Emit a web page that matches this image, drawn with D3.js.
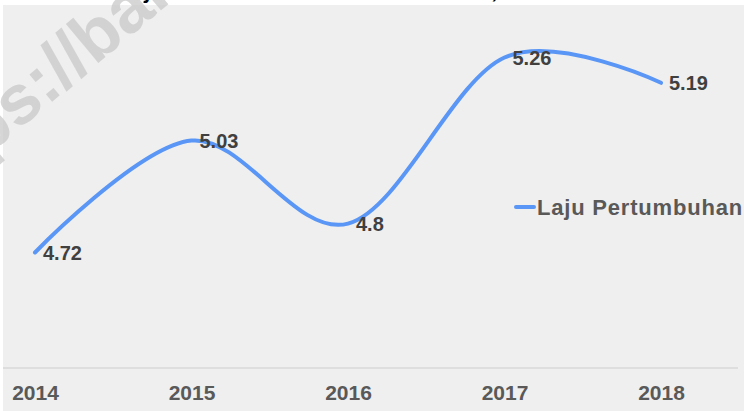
<!DOCTYPE html>
<html><head><meta charset="utf-8">
<script src="https://cdn.jsdelivr.net/npm/d3@7"></script>
<style>html,body{margin:0;padding:0;background:#fff;overflow:hidden}</style>
</head><body><svg id="c" width="744" height="411"></svg>
<script>
const years = ["2014","2015","2016","2017","2018"];
const values = [4.72, 5.03, 4.8, 5.26, 5.19];
const valueLabels = ["4.72","5.03","4.8","5.26","5.19"];
const seriesName = "Laju Pertumbuhan";
const titleText = "Laju Pertumbuhan Ekonomi Daerah, 2014 - 2018";
const watermarkText = "https://bandungkab.bps.go.id";

const svg = d3.select("#c");
const W = 744, H = 411;
svg.append("rect").attr("x",0).attr("y",0).attr("width",W).attr("height",H).attr("fill","#ffffff");
svg.append("rect").attr("x",3).attr("y",5).attr("width",W-3).attr("height",H-5).attr("fill","#efefef");

// title mostly cut off at top (as in the reference crop)
svg.append("text").attr("x",120).attr("y",-2)
  .attr("font-family","Liberation Sans, Arial, sans-serif").attr("font-weight","bold").attr("font-style","italic")
  .attr("font-size",22).attr("fill","#000").text(titleText);

const x = d3.scalePoint().domain(years).range([35, 661]);
const y = d3.scaleLinear().domain([4.4, 5.4]).range([368, 7]);

// baseline axis
const axis = d3.axisBottom(x).tickSize(0).tickPadding(17);
const g = svg.append("g").attr("transform","translate(0,368)").call(axis);
g.select(".domain").remove();
g.append("line").attr("x1",3).attr("x2",738).attr("y1",0).attr("y2",0).attr("stroke","#d9d9d9").attr("stroke-width",1.5);
g.selectAll(".tick text").attr("font-family","Liberation Sans, Arial, sans-serif").attr("font-weight","bold")
  .attr("font-size",21).attr("fill","#595959");

// line
const line = d3.line().x((d,i)=>x(years[i])).y(d=>y(d)).curve(d3.curveCardinal.tension(0));
svg.append("path").datum(values).attr("d",line).attr("fill","none")
  .attr("stroke","#5a96f5").attr("stroke-width",4).attr("stroke-linecap","round");

// data labels
svg.selectAll(".lbl").data(values).enter().append("text").attr("class","lbl")
  .attr("x",(d,i)=>x(years[i])+8).attr("y",d=>y(d)).attr("dy","0.36em")
  .attr("font-family","Liberation Sans, Arial, sans-serif").attr("font-weight","bold")
  .attr("font-size",20).attr("fill","#404040").text((d,i)=>valueLabels[i]);

// legend
svg.append("line").attr("x1",516).attr("x2",534).attr("y1",207).attr("y2",207)
  .attr("stroke","#5a96f5").attr("stroke-width",4).attr("stroke-linecap","round");
svg.append("text").attr("x",537).attr("y",207).attr("dy","0.36em")
  .attr("font-family","Liberation Sans, Arial, sans-serif").attr("font-weight","bold")
  .attr("font-size",22).attr("letter-spacing","0.8").attr("fill","#595959").text(seriesName);

// watermark
svg.append("text").attr("transform","translate(-84,216) rotate(-40)")
  .attr("font-family","Liberation Sans, Arial, sans-serif").attr("font-weight","bold")
  .attr("font-size",70).attr("fill","#c8c8c8").attr("fill-opacity",0.75).text(watermarkText);
</script></body></html>
